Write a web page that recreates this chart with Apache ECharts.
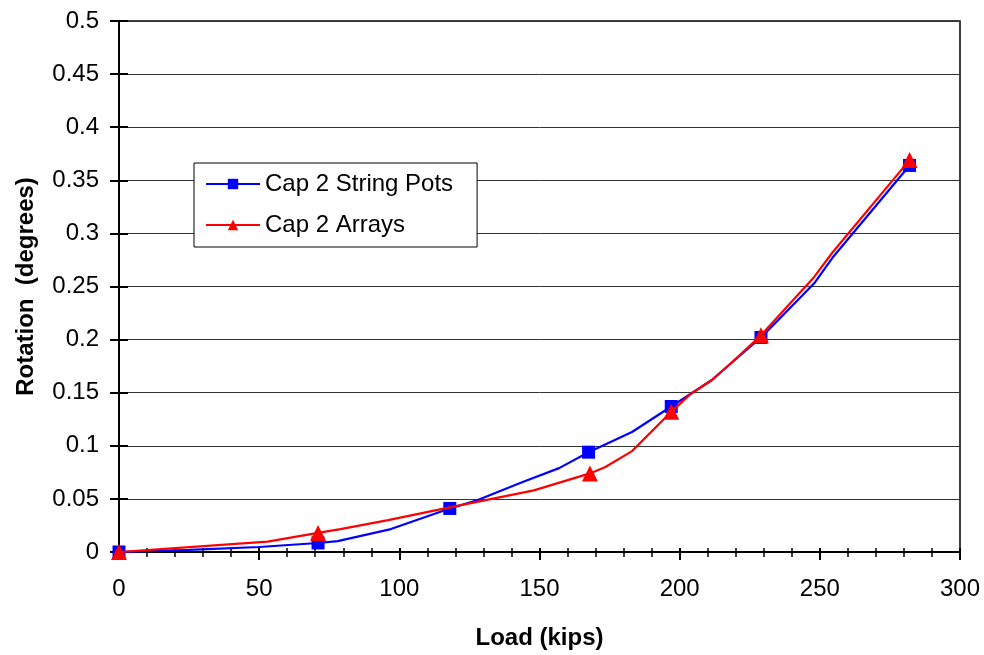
<!DOCTYPE html>
<html>
<head>
<meta charset="utf-8">
<script src="https://cdn.jsdelivr.net/npm/echarts@6/dist/echarts.min.js"></script>
<style>
  html, body { margin: 0; padding: 0; background: #fff; }
  #chart { width: 984px; height: 655px; }
</style>
</head>
<body>
<div id="chart"></div>
<script>
// Cap 2 String Pots (blue) - load in kips, rotation in degrees
var loadPots = [0, 25, 50, 71, 78, 97, 118, 128, 144, 157, 167.5, 183, 197, 204, 211.5, 218, 229, 235, 248, 254.5, 282]
var rotPots = [0, 0.002, 0.0047, 0.0085, 0.0103, 0.0216, 0.041, 0.049, 0.066, 0.079, 0.094, 0.113, 0.137, 0.149, 0.162, 0.177, 0.202, 0.218, 0.253, 0.277, 0.364]
// which points carry a marker
var markPots = [1, 0, 0, 1, 0, 0, 1, 0, 0, 0, 1, 0, 1, 0, 0, 0, 1, 0, 0, 0, 1]

// Cap 2 Arrays (red)
var loadArr = [0, 53, 71, 79, 96, 118, 148, 168, 173.5, 183, 197, 204, 211.5, 218, 229, 248, 254.5, 282]
var rotArr = [0, 0.0097, 0.018, 0.0216, 0.030, 0.042, 0.058, 0.074, 0.080, 0.095, 0.132, 0.149, 0.162, 0.177, 0.204, 0.259, 0.282, 0.369]
var markArr = [1, 0, 1, 0, 0, 0, 0, 1, 0, 0, 1, 0, 0, 0, 1, 0, 0, 1]

var FONT = 'Liberation Sans, Arial, sans-serif'

function toData(xs, ys, marks) {
  return xs.map(function (x, i) {
    var item = { value: [x, ys[i]] }
    if (!marks[i]) item.symbol = 'none'
    return item
  })
}

var chart = echarts.init(document.getElementById('chart'))

var baseX = {
  type: 'value',
  min: 0,
  max: 300,
  interval: 50,
  axisLine: { onZero: false, lineStyle: { color: '#000', width: 2 } },
  splitLine: { show: false }
}
var baseY = {
  type: 'value',
  min: 0,
  max: 0.5,
  interval: 0.05,
  axisLine: { onZero: false, lineStyle: { color: '#000', width: 2 } }
}

chart.setOption({
  animation: false,
  backgroundColor: '#fff',
  grid: {
    left: 119,
    right: 24,
    top: 21,
    bottom: 103,
    show: true,
    borderColor: '#000',
    borderWidth: 1.5,
    backgroundColor: 'transparent'
  },
  legend: {
    orient: 'vertical',
    left: 194,
    top: 163,
    backgroundColor: '#fff',
    borderColor: '#000',
    borderWidth: 1,
    borderRadius: 0,
    padding: [9, 24, 10, 11],
    itemGap: 17,
    itemWidth: 54,
    itemHeight: 13,
    textStyle: { fontFamily: FONT, fontSize: 24, color: '#000' },
    data: ['Cap 2 String Pots', 'Cap 2 Arrays']
  },
  xAxis: [
    Object.assign({}, baseX, {
      name: 'Load (kips)',
      nameLocation: 'middle',
      nameGap: 74,
      nameTextStyle: { fontFamily: FONT, fontSize: 24, fontWeight: 'bold', color: '#000' },
      axisTick: { length: 8, lineStyle: { color: '#000', width: 2 } },
      minorTick: { show: true, splitNumber: 5, length: 5, lineStyle: { color: '#000', width: 1.5 } },
      axisLabel: { fontFamily: FONT, fontSize: 24, color: '#000', margin: 25 }
    }),
    Object.assign({}, baseX, {
      position: 'bottom',
      axisTick: { inside: true, length: 4, lineStyle: { color: '#000', width: 2 } },
      minorTick: { show: true, splitNumber: 5, length: 4, lineStyle: { color: '#000', width: 1.5 } },
      axisLabel: { show: false }
    })
  ],
  yAxis: [
    Object.assign({}, baseY, {
      name: 'Rotation  (degrees)',
      nameLocation: 'middle',
      nameGap: 81,
      nameTextStyle: { fontFamily: FONT, fontSize: 24, fontWeight: 'bold', color: '#000' },
      axisTick: { length: 9, lineStyle: { color: '#000', width: 2 } },
      axisLabel: { fontFamily: FONT, fontSize: 24, color: '#000', margin: 20 },
      splitLine: { lineStyle: { color: '#333', width: 1 } }
    }),
    Object.assign({}, baseY, {
      position: 'left',
      axisTick: { inside: true, length: 9, lineStyle: { color: '#000', width: 2 } },
      axisLabel: { show: false },
      splitLine: { show: false }
    })
  ],
  series: [
    {
      name: 'Cap 2 String Pots',
      type: 'line',
      symbol: 'rect',
      symbolSize: 13,
      showAllSymbol: true,
      color: '#0000ff',
      lineStyle: { color: '#0000ff', width: 2.2 },
      itemStyle: { color: '#0000ff' },
      data: toData(loadPots, rotPots, markPots),
      z: 3
    },
    {
      name: 'Cap 2 Arrays',
      type: 'line',
      symbol: 'triangle',
      symbolSize: 16,
      showAllSymbol: true,
      color: '#ff0000',
      lineStyle: { color: '#ff0000', width: 2.2 },
      itemStyle: { color: '#ff0000' },
      data: toData(loadArr, rotArr, markArr),
      z: 4
    }
  ]
})
</script>
</body>
</html>
